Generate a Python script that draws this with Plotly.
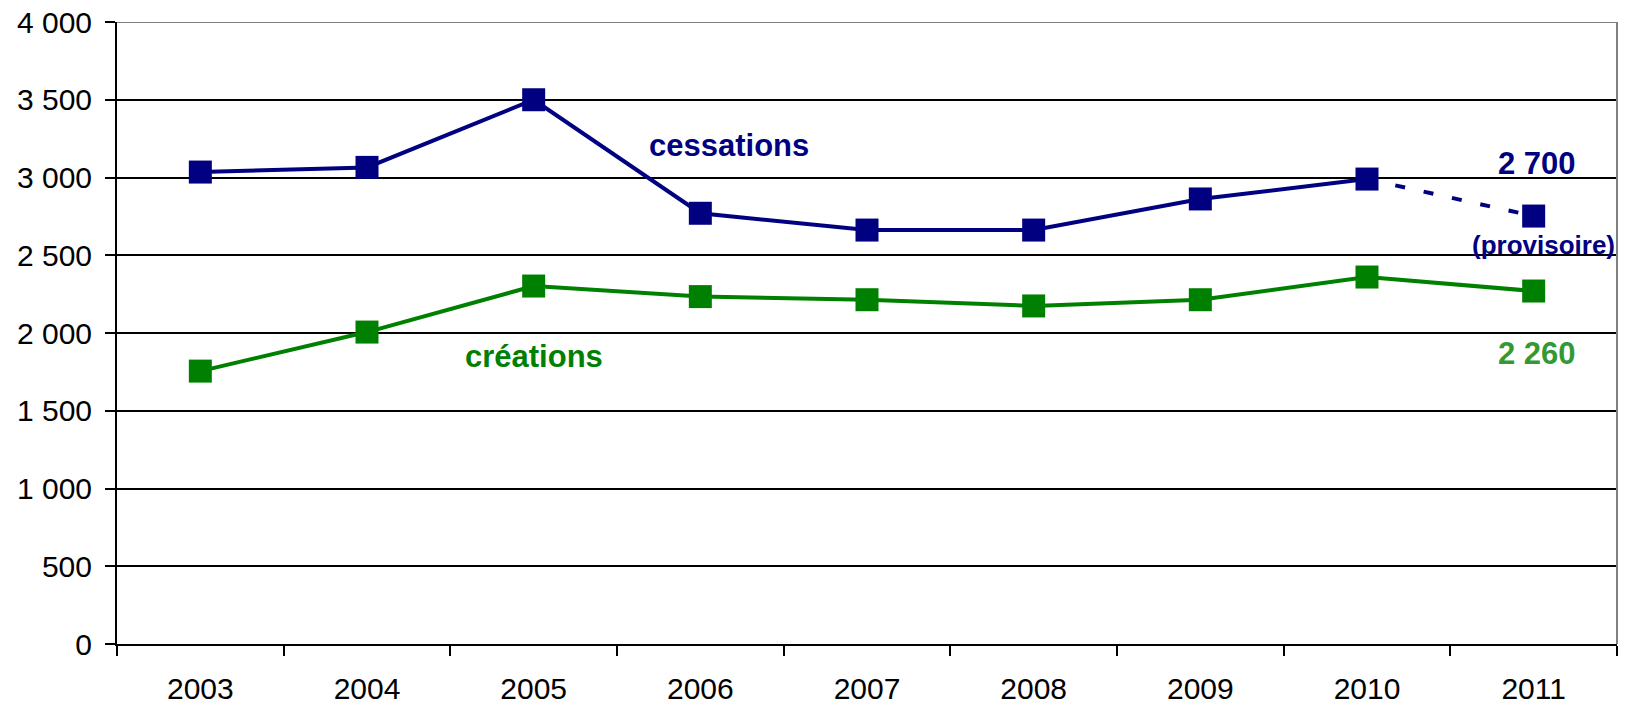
import plotly.graph_objects as go

years = ["2003", "2004", "2005", "2006", "2007", "2008", "2009", "2010", "2011"]
cessations = [3035, 3065, 3500, 2770, 2662, 2662, 2862, 2990, 2752]
creations = [1755, 2006, 2302, 2234, 2214, 2174, 2214, 2360, 2270]
y_ticks = [0, 500, 1000, 1500, 2000, 2500, 3000, 3500, 4000]

NAVY = "#000080"
GREEN = "#008000"
FONT = "Liberation Sans, Arial, sans-serif"

fig = go.Figure()

fig.add_trace(go.Scatter(x=years[:8], y=cessations[:8], mode="lines",
                         line=dict(color=NAVY, width=4), showlegend=False))
fig.add_trace(go.Scatter(x=years[7:], y=cessations[7:], mode="lines",
                         line=dict(color=NAVY, width=4, dash="10px,19px"), showlegend=False))
fig.add_trace(go.Scatter(x=years, y=cessations, mode="markers",
                         marker=dict(symbol="square", size=23, color=NAVY), showlegend=False))
fig.add_trace(go.Scatter(x=years, y=creations, mode="lines+markers",
                         line=dict(color=GREEN, width=4),
                         marker=dict(symbol="square", size=23, color=GREEN), showlegend=False))

annotations = [
    dict(x=3.17, y=3209, text="cessations", font=dict(size=31, color=NAVY, family=FONT)),
    dict(x=2.0, y=1846, text="créations", font=dict(size=31, color=GREEN, family=FONT)),
    dict(x=8.02, y=3087, text="2 700", font=dict(size=31, color=NAVY, family=FONT)),
    dict(x=8.06, y=2566, text="(provisoire)", font=dict(size=26, color=NAVY, family=FONT)),
    dict(x=8.02, y=1871, text="2 260", font=dict(size=31, color="#339933", family=FONT)),
]
for a in annotations:
    a["text"] = "<b>" + a["text"] + "</b>"
    a.update(xref="x", yref="y", showarrow=False, xanchor="center", yanchor="middle")

fig.update_layout(
    width=1628, height=705,
    margin=dict(l=117, r=11, t=22, b=61, autoexpand=False),
    paper_bgcolor="white", plot_bgcolor="white",
    separators=", ",
    font=dict(family=FONT, size=30, color="black"),
    annotations=annotations,
    shapes=[
        dict(type="line", xref="paper", yref="y", x0=0, x1=1, y0=4000, y1=4000,
             line=dict(color="#808080", width=2)),
        dict(type="line", xref="paper", yref="paper", x0=1, x1=1, y0=0, y1=1,
             line=dict(color="#808080", width=2)),
    ],
)
fig.update_xaxes(type="category", range=[-0.5, 8.5], tickson="boundaries",
                 ticks="outside", ticklen=10, tickwidth=2, tickcolor="black",
                 showline=True, linecolor="black", linewidth=2, showgrid=False,
                 automargin=False, ticklabelstandoff=17, ticklabeloverflow="allow",
                 tickfont=dict(size=30, family=FONT))
fig.update_yaxes(range=[0, 4000], tickvals=y_ticks, tickformat=",d",
                 ticks="outside", ticklen=10, tickwidth=2, tickcolor="black",
                 showline=True, linecolor="black", linewidth=2,
                 showgrid=True, gridcolor="black", gridwidth=2, zeroline=False,
                 automargin=False, ticklabelstandoff=7, ticklabeloverflow="allow",
                 tickfont=dict(size=30, family=FONT))

fig.write_html(
    "out.html",
    config={"displayModeBar": False},
    post_script="document.body.style.margin='0px';document.body.style.overflow='hidden';",
)
